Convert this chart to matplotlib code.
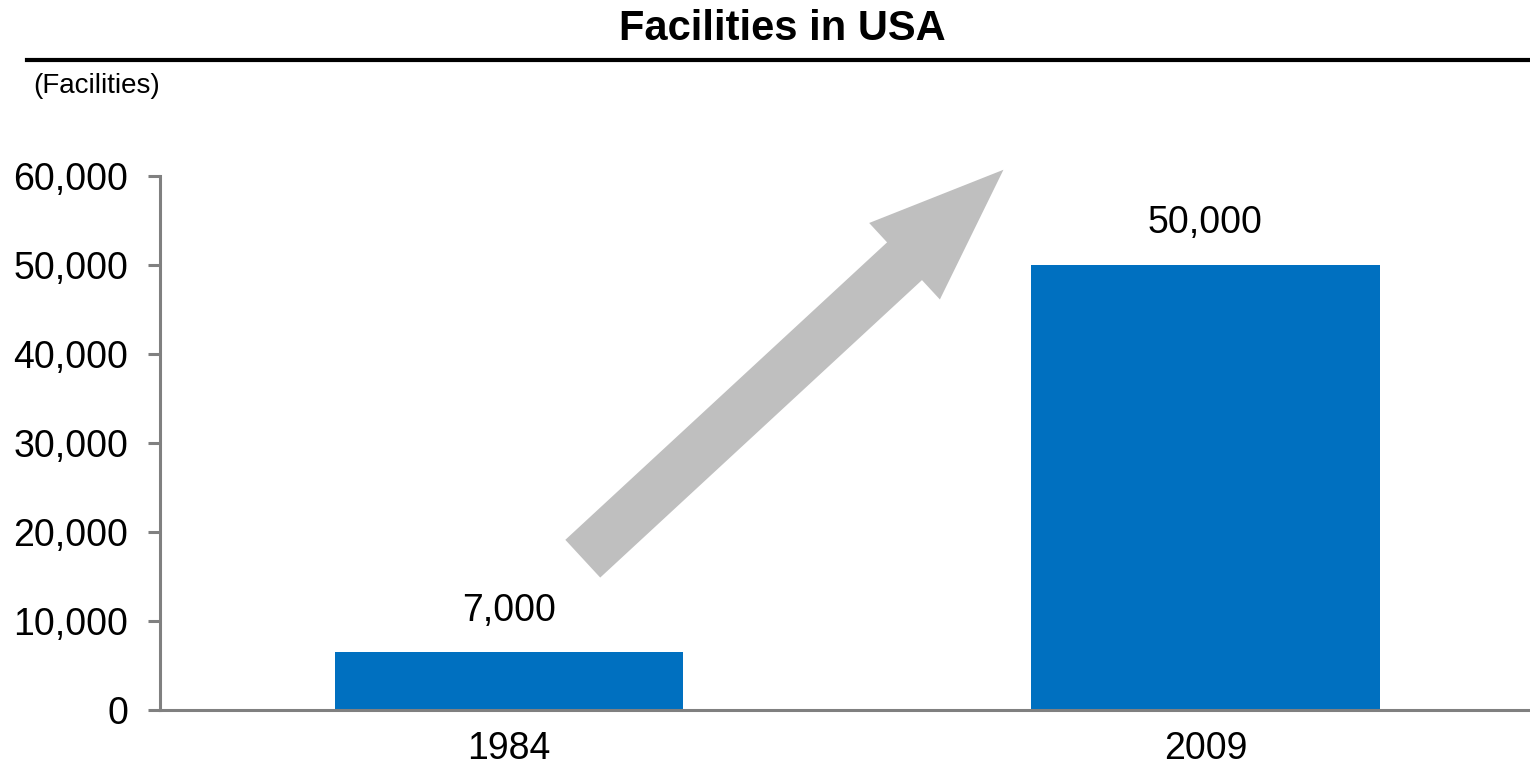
import matplotlib
matplotlib.use("Agg")
import matplotlib.pyplot as plt
from matplotlib.lines import Line2D
from matplotlib.ticker import FuncFormatter

plt.rcParams["font.family"] = ["Liberation Sans", "DejaVu Sans"]

# dati
years = ["1984", "2009"]
facilities = [6500, 50000]
bar_labels = ["7,000", "50,000"]
y_ticks = [0, 10000, 20000, 30000, 40000, 50000, 60000]

W, H = 1530, 773
fig = plt.figure(figsize=(W / 100, H / 100), dpi=100)
ax = fig.add_axes([160 / W, (H - 710) / H, (W - 160) / W, (710 - 176) / H])

x = range(len(years))
ax.bar(x, facilities, width=0.5, color="#0070C0", zorder=2)
ax.set_xlim(-0.501, 1.466)
ax.set_ylim(0, 60000)
ax.set_xticks(list(x), years)
ax.set_yticks(y_ticks)
ax.yaxis.set_major_formatter(FuncFormatter(lambda v, p: f"{int(v):,}"))

for s in ["top", "right"]:
    ax.spines[s].set_visible(False)
for s in ["left", "bottom"]:
    ax.spines[s].set_color("#808080")
    ax.spines[s].set_linewidth(2.2)

ax.tick_params(axis="y", length=9, width=2.2, color="#808080",
               labelsize=27, pad=14)
ax.tick_params(axis="x", length=0, labelsize=27, pad=15)

# etichette valori
for xi, val, lab in zip(x, facilities, bar_labels):
    ax.annotate(lab, xy=(xi, val), xytext=(0, 17), textcoords="offset points",
                ha="center", va="bottom", fontsize=27)

# freccia di crescita
ax.annotate("", xy=(0.71, 60700), xytext=(0.106, 17000),
            annotation_clip=False,
            arrowprops=dict(arrowstyle="simple,head_length=97,head_width=75,tail_width=37",
                            mutation_scale=1, color="#BFBFBF", lw=0,
                            shrinkA=0, shrinkB=0))

# titolo e riga
fig.text(782 / W, 1 - 29 / H, "Facilities in USA", ha="center", va="center",
         fontsize=30, fontweight="bold")
fig.add_artist(Line2D([27 / W, 1], [1 - 60 / H, 1 - 60 / H],
                      transform=fig.transFigure, color="black", linewidth=3))
fig.text(33 / W, 1 - 86 / H, "(Facilities)", ha="left", va="center", fontsize=20)

fig.savefig("out.png", dpi=100)
